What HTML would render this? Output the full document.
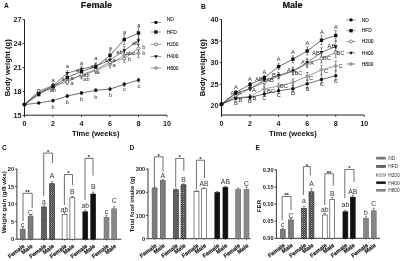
<!DOCTYPE html>
<html><head><meta charset="utf-8"><style>
html,body{margin:0;padding:0;background:#fff;width:400px;height:261px;overflow:hidden}
svg{display:block;font-family:"Liberation Sans", sans-serif;filter:blur(0.3px)}
</style></head><body>
<svg width="400" height="261" viewBox="0 0 400 261">
<text x="4.00" y="8.30" font-size="6.6" font-weight="bold" text-anchor="start" fill="#111" >A</text>
<text x="201.00" y="8.70" font-size="6.6" font-weight="bold" text-anchor="start" fill="#111" >B</text>
<text x="2.00" y="150.00" font-size="6.6" font-weight="bold" text-anchor="start" fill="#111" >C</text>
<text x="129.50" y="150.00" font-size="6.6" font-weight="bold" text-anchor="start" fill="#111" >D</text>
<text x="255.50" y="150.00" font-size="6.6" font-weight="bold" text-anchor="start" fill="#111" >E</text>
<line x1="24.50" y1="19.50" x2="24.50" y2="116.70" stroke="#222" stroke-width="1.0"/>
<line x1="24.50" y1="115.20" x2="167.00" y2="115.20" stroke="#222" stroke-width="1.0"/>
<line x1="22.50" y1="19.50" x2="24.50" y2="19.50" stroke="#222" stroke-width="0.8"/>
<text x="21.50" y="22.00" font-size="7.2" font-weight="bold" text-anchor="end" fill="#1a1a1a" >27</text>
<line x1="22.50" y1="43.50" x2="24.50" y2="43.50" stroke="#222" stroke-width="0.8"/>
<text x="21.50" y="46.00" font-size="7.2" font-weight="bold" text-anchor="end" fill="#1a1a1a" >24</text>
<line x1="22.50" y1="67.50" x2="24.50" y2="67.50" stroke="#222" stroke-width="0.8"/>
<text x="21.50" y="70.00" font-size="7.2" font-weight="bold" text-anchor="end" fill="#1a1a1a" >21</text>
<line x1="22.50" y1="91.50" x2="24.50" y2="91.50" stroke="#222" stroke-width="0.8"/>
<text x="21.50" y="94.00" font-size="7.2" font-weight="bold" text-anchor="end" fill="#1a1a1a" >18</text>
<line x1="22.50" y1="115.50" x2="24.50" y2="115.50" stroke="#222" stroke-width="0.8"/>
<text x="21.50" y="118.00" font-size="7.2" font-weight="bold" text-anchor="end" fill="#1a1a1a" >15</text>
<line x1="24.50" y1="115.20" x2="24.50" y2="117.20" stroke="#222" stroke-width="0.8"/>
<text x="24.50" y="126.00" font-size="7.2" font-weight="bold" text-anchor="middle" fill="#1a1a1a" >0</text>
<line x1="53.00" y1="115.20" x2="53.00" y2="117.20" stroke="#222" stroke-width="0.8"/>
<text x="53.00" y="126.00" font-size="7.2" font-weight="bold" text-anchor="middle" fill="#1a1a1a" >2</text>
<line x1="81.50" y1="115.20" x2="81.50" y2="117.20" stroke="#222" stroke-width="0.8"/>
<text x="81.50" y="126.00" font-size="7.2" font-weight="bold" text-anchor="middle" fill="#1a1a1a" >4</text>
<line x1="110.00" y1="115.20" x2="110.00" y2="117.20" stroke="#222" stroke-width="0.8"/>
<text x="110.00" y="126.00" font-size="7.2" font-weight="bold" text-anchor="middle" fill="#1a1a1a" >6</text>
<line x1="138.50" y1="115.20" x2="138.50" y2="117.20" stroke="#222" stroke-width="0.8"/>
<text x="138.50" y="126.00" font-size="7.2" font-weight="bold" text-anchor="middle" fill="#1a1a1a" >8</text>
<line x1="167.00" y1="115.20" x2="167.00" y2="117.20" stroke="#222" stroke-width="0.8"/>
<text x="167.00" y="126.00" font-size="7.2" font-weight="bold" text-anchor="middle" fill="#1a1a1a" >10</text>
<text x="96.50" y="8.10" font-size="9.1" font-weight="bold" text-anchor="middle" fill="#111" stroke="#111" stroke-width="0.2">Female</text>
<text x="95.75" y="136.30" font-size="7.6" font-weight="bold" text-anchor="middle" fill="#111" >Time (weeks)</text>
<text x="0" y="0" font-size="7.6" font-weight="bold" text-anchor="middle" fill="#111" transform="translate(9.8,67.7) rotate(-90)">Body weight (g)</text>
<polyline points="24.50,104.50 38.75,92.50 53.00,88.00 67.25,79.50 81.50,76.00 95.75,70.50 110.00,64.50 124.25,55.00 138.50,53.50" fill="none" stroke="#777" stroke-width="0.7"/>
<polyline points="24.50,104.50 38.75,91.00 53.00,85.50 67.25,82.00 81.50,74.50 95.75,69.90 110.00,62.00 124.25,58.50 138.50,48.50" fill="none" stroke="#666" stroke-width="0.7"/>
<polyline points="24.50,104.50 38.75,93.00 53.00,85.70 67.25,73.20 81.50,69.00 95.75,66.00 110.00,60.00 124.25,50.50 138.50,40.60" fill="none" stroke="#444" stroke-width="0.7"/>
<polyline points="24.50,104.50 38.75,94.50 53.00,86.50 67.25,77.60 81.50,71.40 95.75,66.80 110.00,55.30 124.25,39.50 138.50,33.00" fill="none" stroke="#333" stroke-width="0.7"/>
<polyline points="24.50,104.50 38.75,103.00 53.00,100.60 67.25,96.00 81.50,93.00 95.75,90.30 110.00,89.10 124.25,84.30 138.50,80.10" fill="none" stroke="#333" stroke-width="0.7"/>
<line x1="38.75" y1="91.00" x2="38.75" y2="94.00" stroke="#444" stroke-width="0.6"/>
<line x1="37.75" y1="91.00" x2="39.75" y2="91.00" stroke="#444" stroke-width="0.6"/>
<line x1="37.75" y1="94.00" x2="39.75" y2="94.00" stroke="#444" stroke-width="0.6"/>
<line x1="53.00" y1="86.00" x2="53.00" y2="90.00" stroke="#444" stroke-width="0.6"/>
<line x1="52.00" y1="86.00" x2="54.00" y2="86.00" stroke="#444" stroke-width="0.6"/>
<line x1="52.00" y1="90.00" x2="54.00" y2="90.00" stroke="#444" stroke-width="0.6"/>
<line x1="67.25" y1="77.00" x2="67.25" y2="82.00" stroke="#444" stroke-width="0.6"/>
<line x1="66.25" y1="77.00" x2="68.25" y2="77.00" stroke="#444" stroke-width="0.6"/>
<line x1="66.25" y1="82.00" x2="68.25" y2="82.00" stroke="#444" stroke-width="0.6"/>
<line x1="81.50" y1="73.00" x2="81.50" y2="79.00" stroke="#444" stroke-width="0.6"/>
<line x1="80.50" y1="73.00" x2="82.50" y2="73.00" stroke="#444" stroke-width="0.6"/>
<line x1="80.50" y1="79.00" x2="82.50" y2="79.00" stroke="#444" stroke-width="0.6"/>
<line x1="95.75" y1="67.50" x2="95.75" y2="73.50" stroke="#444" stroke-width="0.6"/>
<line x1="94.75" y1="67.50" x2="96.75" y2="67.50" stroke="#444" stroke-width="0.6"/>
<line x1="94.75" y1="73.50" x2="96.75" y2="73.50" stroke="#444" stroke-width="0.6"/>
<line x1="110.00" y1="61.00" x2="110.00" y2="68.00" stroke="#444" stroke-width="0.6"/>
<line x1="109.00" y1="61.00" x2="111.00" y2="61.00" stroke="#444" stroke-width="0.6"/>
<line x1="109.00" y1="68.00" x2="111.00" y2="68.00" stroke="#444" stroke-width="0.6"/>
<line x1="124.25" y1="51.00" x2="124.25" y2="59.00" stroke="#444" stroke-width="0.6"/>
<line x1="123.25" y1="51.00" x2="125.25" y2="51.00" stroke="#444" stroke-width="0.6"/>
<line x1="123.25" y1="59.00" x2="125.25" y2="59.00" stroke="#444" stroke-width="0.6"/>
<line x1="138.50" y1="49.50" x2="138.50" y2="57.50" stroke="#444" stroke-width="0.6"/>
<line x1="137.50" y1="49.50" x2="139.50" y2="49.50" stroke="#444" stroke-width="0.6"/>
<line x1="137.50" y1="57.50" x2="139.50" y2="57.50" stroke="#444" stroke-width="0.6"/>
<line x1="38.75" y1="89.50" x2="38.75" y2="92.50" stroke="#444" stroke-width="0.6"/>
<line x1="37.75" y1="89.50" x2="39.75" y2="89.50" stroke="#444" stroke-width="0.6"/>
<line x1="37.75" y1="92.50" x2="39.75" y2="92.50" stroke="#444" stroke-width="0.6"/>
<line x1="53.00" y1="83.50" x2="53.00" y2="87.50" stroke="#444" stroke-width="0.6"/>
<line x1="52.00" y1="83.50" x2="54.00" y2="83.50" stroke="#444" stroke-width="0.6"/>
<line x1="52.00" y1="87.50" x2="54.00" y2="87.50" stroke="#444" stroke-width="0.6"/>
<line x1="67.25" y1="79.50" x2="67.25" y2="84.50" stroke="#444" stroke-width="0.6"/>
<line x1="66.25" y1="79.50" x2="68.25" y2="79.50" stroke="#444" stroke-width="0.6"/>
<line x1="66.25" y1="84.50" x2="68.25" y2="84.50" stroke="#444" stroke-width="0.6"/>
<line x1="81.50" y1="71.50" x2="81.50" y2="77.50" stroke="#444" stroke-width="0.6"/>
<line x1="80.50" y1="71.50" x2="82.50" y2="71.50" stroke="#444" stroke-width="0.6"/>
<line x1="80.50" y1="77.50" x2="82.50" y2="77.50" stroke="#444" stroke-width="0.6"/>
<line x1="95.75" y1="66.90" x2="95.75" y2="72.90" stroke="#444" stroke-width="0.6"/>
<line x1="94.75" y1="66.90" x2="96.75" y2="66.90" stroke="#444" stroke-width="0.6"/>
<line x1="94.75" y1="72.90" x2="96.75" y2="72.90" stroke="#444" stroke-width="0.6"/>
<line x1="110.00" y1="58.50" x2="110.00" y2="65.50" stroke="#444" stroke-width="0.6"/>
<line x1="109.00" y1="58.50" x2="111.00" y2="58.50" stroke="#444" stroke-width="0.6"/>
<line x1="109.00" y1="65.50" x2="111.00" y2="65.50" stroke="#444" stroke-width="0.6"/>
<line x1="124.25" y1="54.50" x2="124.25" y2="62.50" stroke="#444" stroke-width="0.6"/>
<line x1="123.25" y1="54.50" x2="125.25" y2="54.50" stroke="#444" stroke-width="0.6"/>
<line x1="123.25" y1="62.50" x2="125.25" y2="62.50" stroke="#444" stroke-width="0.6"/>
<line x1="138.50" y1="44.50" x2="138.50" y2="52.50" stroke="#444" stroke-width="0.6"/>
<line x1="137.50" y1="44.50" x2="139.50" y2="44.50" stroke="#444" stroke-width="0.6"/>
<line x1="137.50" y1="52.50" x2="139.50" y2="52.50" stroke="#444" stroke-width="0.6"/>
<line x1="38.75" y1="91.50" x2="38.75" y2="94.50" stroke="#444" stroke-width="0.6"/>
<line x1="37.75" y1="91.50" x2="39.75" y2="91.50" stroke="#444" stroke-width="0.6"/>
<line x1="37.75" y1="94.50" x2="39.75" y2="94.50" stroke="#444" stroke-width="0.6"/>
<line x1="53.00" y1="83.70" x2="53.00" y2="87.70" stroke="#444" stroke-width="0.6"/>
<line x1="52.00" y1="83.70" x2="54.00" y2="83.70" stroke="#444" stroke-width="0.6"/>
<line x1="52.00" y1="87.70" x2="54.00" y2="87.70" stroke="#444" stroke-width="0.6"/>
<line x1="67.25" y1="70.70" x2="67.25" y2="75.70" stroke="#444" stroke-width="0.6"/>
<line x1="66.25" y1="70.70" x2="68.25" y2="70.70" stroke="#444" stroke-width="0.6"/>
<line x1="66.25" y1="75.70" x2="68.25" y2="75.70" stroke="#444" stroke-width="0.6"/>
<line x1="81.50" y1="66.00" x2="81.50" y2="72.00" stroke="#444" stroke-width="0.6"/>
<line x1="80.50" y1="66.00" x2="82.50" y2="66.00" stroke="#444" stroke-width="0.6"/>
<line x1="80.50" y1="72.00" x2="82.50" y2="72.00" stroke="#444" stroke-width="0.6"/>
<line x1="95.75" y1="63.00" x2="95.75" y2="69.00" stroke="#444" stroke-width="0.6"/>
<line x1="94.75" y1="63.00" x2="96.75" y2="63.00" stroke="#444" stroke-width="0.6"/>
<line x1="94.75" y1="69.00" x2="96.75" y2="69.00" stroke="#444" stroke-width="0.6"/>
<line x1="110.00" y1="56.50" x2="110.00" y2="63.50" stroke="#444" stroke-width="0.6"/>
<line x1="109.00" y1="56.50" x2="111.00" y2="56.50" stroke="#444" stroke-width="0.6"/>
<line x1="109.00" y1="63.50" x2="111.00" y2="63.50" stroke="#444" stroke-width="0.6"/>
<line x1="124.25" y1="46.50" x2="124.25" y2="54.50" stroke="#444" stroke-width="0.6"/>
<line x1="123.25" y1="46.50" x2="125.25" y2="46.50" stroke="#444" stroke-width="0.6"/>
<line x1="123.25" y1="54.50" x2="125.25" y2="54.50" stroke="#444" stroke-width="0.6"/>
<line x1="138.50" y1="36.10" x2="138.50" y2="45.10" stroke="#444" stroke-width="0.6"/>
<line x1="137.50" y1="36.10" x2="139.50" y2="36.10" stroke="#444" stroke-width="0.6"/>
<line x1="137.50" y1="45.10" x2="139.50" y2="45.10" stroke="#444" stroke-width="0.6"/>
<line x1="38.75" y1="93.00" x2="38.75" y2="96.00" stroke="#444" stroke-width="0.6"/>
<line x1="37.75" y1="93.00" x2="39.75" y2="93.00" stroke="#444" stroke-width="0.6"/>
<line x1="37.75" y1="96.00" x2="39.75" y2="96.00" stroke="#444" stroke-width="0.6"/>
<line x1="53.00" y1="84.50" x2="53.00" y2="88.50" stroke="#444" stroke-width="0.6"/>
<line x1="52.00" y1="84.50" x2="54.00" y2="84.50" stroke="#444" stroke-width="0.6"/>
<line x1="52.00" y1="88.50" x2="54.00" y2="88.50" stroke="#444" stroke-width="0.6"/>
<line x1="67.25" y1="75.10" x2="67.25" y2="80.10" stroke="#444" stroke-width="0.6"/>
<line x1="66.25" y1="75.10" x2="68.25" y2="75.10" stroke="#444" stroke-width="0.6"/>
<line x1="66.25" y1="80.10" x2="68.25" y2="80.10" stroke="#444" stroke-width="0.6"/>
<line x1="81.50" y1="68.40" x2="81.50" y2="74.40" stroke="#444" stroke-width="0.6"/>
<line x1="80.50" y1="68.40" x2="82.50" y2="68.40" stroke="#444" stroke-width="0.6"/>
<line x1="80.50" y1="74.40" x2="82.50" y2="74.40" stroke="#444" stroke-width="0.6"/>
<line x1="95.75" y1="63.30" x2="95.75" y2="70.30" stroke="#444" stroke-width="0.6"/>
<line x1="94.75" y1="63.30" x2="96.75" y2="63.30" stroke="#444" stroke-width="0.6"/>
<line x1="94.75" y1="70.30" x2="96.75" y2="70.30" stroke="#444" stroke-width="0.6"/>
<line x1="110.00" y1="50.80" x2="110.00" y2="59.80" stroke="#444" stroke-width="0.6"/>
<line x1="109.00" y1="50.80" x2="111.00" y2="50.80" stroke="#444" stroke-width="0.6"/>
<line x1="109.00" y1="59.80" x2="111.00" y2="59.80" stroke="#444" stroke-width="0.6"/>
<line x1="124.25" y1="34.50" x2="124.25" y2="44.50" stroke="#444" stroke-width="0.6"/>
<line x1="123.25" y1="34.50" x2="125.25" y2="34.50" stroke="#444" stroke-width="0.6"/>
<line x1="123.25" y1="44.50" x2="125.25" y2="44.50" stroke="#444" stroke-width="0.6"/>
<line x1="138.50" y1="27.50" x2="138.50" y2="38.50" stroke="#444" stroke-width="0.6"/>
<line x1="137.50" y1="27.50" x2="139.50" y2="27.50" stroke="#444" stroke-width="0.6"/>
<line x1="137.50" y1="38.50" x2="139.50" y2="38.50" stroke="#444" stroke-width="0.6"/>
<line x1="53.00" y1="99.10" x2="53.00" y2="102.10" stroke="#444" stroke-width="0.6"/>
<line x1="52.00" y1="99.10" x2="54.00" y2="99.10" stroke="#444" stroke-width="0.6"/>
<line x1="52.00" y1="102.10" x2="54.00" y2="102.10" stroke="#444" stroke-width="0.6"/>
<line x1="67.25" y1="94.50" x2="67.25" y2="97.50" stroke="#444" stroke-width="0.6"/>
<line x1="66.25" y1="94.50" x2="68.25" y2="94.50" stroke="#444" stroke-width="0.6"/>
<line x1="66.25" y1="97.50" x2="68.25" y2="97.50" stroke="#444" stroke-width="0.6"/>
<line x1="81.50" y1="91.50" x2="81.50" y2="94.50" stroke="#444" stroke-width="0.6"/>
<line x1="80.50" y1="91.50" x2="82.50" y2="91.50" stroke="#444" stroke-width="0.6"/>
<line x1="80.50" y1="94.50" x2="82.50" y2="94.50" stroke="#444" stroke-width="0.6"/>
<line x1="95.75" y1="88.80" x2="95.75" y2="91.80" stroke="#444" stroke-width="0.6"/>
<line x1="94.75" y1="88.80" x2="96.75" y2="88.80" stroke="#444" stroke-width="0.6"/>
<line x1="94.75" y1="91.80" x2="96.75" y2="91.80" stroke="#444" stroke-width="0.6"/>
<line x1="110.00" y1="87.30" x2="110.00" y2="90.90" stroke="#444" stroke-width="0.6"/>
<line x1="109.00" y1="87.30" x2="111.00" y2="87.30" stroke="#444" stroke-width="0.6"/>
<line x1="109.00" y1="90.90" x2="111.00" y2="90.90" stroke="#444" stroke-width="0.6"/>
<line x1="124.25" y1="82.30" x2="124.25" y2="86.30" stroke="#444" stroke-width="0.6"/>
<line x1="123.25" y1="82.30" x2="125.25" y2="82.30" stroke="#444" stroke-width="0.6"/>
<line x1="123.25" y1="86.30" x2="125.25" y2="86.30" stroke="#444" stroke-width="0.6"/>
<line x1="138.50" y1="78.10" x2="138.50" y2="82.10" stroke="#444" stroke-width="0.6"/>
<line x1="137.50" y1="78.10" x2="139.50" y2="78.10" stroke="#444" stroke-width="0.6"/>
<line x1="137.50" y1="82.10" x2="139.50" y2="82.10" stroke="#444" stroke-width="0.6"/>
<path d="M24.50,102.70 L26.30,104.50 L24.50,106.30 L22.70,104.50 Z" fill="#aaa" stroke="#555" stroke-width="0.5"/>
<path d="M38.75,90.70 L40.55,92.50 L38.75,94.30 L36.95,92.50 Z" fill="#aaa" stroke="#555" stroke-width="0.5"/>
<path d="M53.00,86.20 L54.80,88.00 L53.00,89.80 L51.20,88.00 Z" fill="#aaa" stroke="#555" stroke-width="0.5"/>
<path d="M67.25,77.70 L69.05,79.50 L67.25,81.30 L65.45,79.50 Z" fill="#aaa" stroke="#555" stroke-width="0.5"/>
<path d="M81.50,74.20 L83.30,76.00 L81.50,77.80 L79.70,76.00 Z" fill="#aaa" stroke="#555" stroke-width="0.5"/>
<path d="M95.75,68.70 L97.55,70.50 L95.75,72.30 L93.95,70.50 Z" fill="#aaa" stroke="#555" stroke-width="0.5"/>
<path d="M110.00,62.70 L111.80,64.50 L110.00,66.30 L108.20,64.50 Z" fill="#aaa" stroke="#555" stroke-width="0.5"/>
<path d="M124.25,53.20 L126.05,55.00 L124.25,56.80 L122.45,55.00 Z" fill="#aaa" stroke="#555" stroke-width="0.5"/>
<path d="M138.50,51.70 L140.30,53.50 L138.50,55.30 L136.70,53.50 Z" fill="#aaa" stroke="#555" stroke-width="0.5"/>
<circle cx="24.50" cy="104.50" r="1.5" fill="#fff" stroke="#333" stroke-width="0.6"/>
<circle cx="38.75" cy="91.00" r="1.5" fill="#fff" stroke="#333" stroke-width="0.6"/>
<circle cx="53.00" cy="85.50" r="1.5" fill="#fff" stroke="#333" stroke-width="0.6"/>
<circle cx="67.25" cy="82.00" r="1.5" fill="#fff" stroke="#333" stroke-width="0.6"/>
<circle cx="81.50" cy="74.50" r="1.5" fill="#fff" stroke="#333" stroke-width="0.6"/>
<circle cx="95.75" cy="69.90" r="1.5" fill="#fff" stroke="#333" stroke-width="0.6"/>
<circle cx="110.00" cy="62.00" r="1.5" fill="#fff" stroke="#333" stroke-width="0.6"/>
<circle cx="124.25" cy="58.50" r="1.5" fill="#fff" stroke="#333" stroke-width="0.6"/>
<circle cx="138.50" cy="48.50" r="1.5" fill="#fff" stroke="#333" stroke-width="0.6"/>
<path d="M22.60,103.20 L26.40,103.20 L24.50,106.40 Z" fill="#111"/>
<path d="M36.85,91.70 L40.65,91.70 L38.75,94.90 Z" fill="#111"/>
<path d="M51.10,84.40 L54.90,84.40 L53.00,87.60 Z" fill="#111"/>
<path d="M65.35,71.90 L69.15,71.90 L67.25,75.10 Z" fill="#111"/>
<path d="M79.60,67.70 L83.40,67.70 L81.50,70.90 Z" fill="#111"/>
<path d="M93.85,64.70 L97.65,64.70 L95.75,67.90 Z" fill="#111"/>
<path d="M108.10,58.70 L111.90,58.70 L110.00,61.90 Z" fill="#111"/>
<path d="M122.35,49.20 L126.15,49.20 L124.25,52.40 Z" fill="#111"/>
<path d="M136.60,39.30 L140.40,39.30 L138.50,42.50 Z" fill="#111"/>
<rect x="22.80" y="102.80" width="3.4" height="3.4" fill="#111"/>
<rect x="37.05" y="92.80" width="3.4" height="3.4" fill="#111"/>
<rect x="51.30" y="84.80" width="3.4" height="3.4" fill="#111"/>
<rect x="65.55" y="75.90" width="3.4" height="3.4" fill="#111"/>
<rect x="79.80" y="69.70" width="3.4" height="3.4" fill="#111"/>
<rect x="94.05" y="65.10" width="3.4" height="3.4" fill="#111"/>
<rect x="108.30" y="53.60" width="3.4" height="3.4" fill="#111"/>
<rect x="122.55" y="37.80" width="3.4" height="3.4" fill="#111"/>
<rect x="136.80" y="31.30" width="3.4" height="3.4" fill="#111"/>
<circle cx="24.50" cy="104.50" r="1.7" fill="#111"/>
<circle cx="38.75" cy="103.00" r="1.7" fill="#111"/>
<circle cx="53.00" cy="100.60" r="1.7" fill="#111"/>
<circle cx="67.25" cy="96.00" r="1.7" fill="#111"/>
<circle cx="81.50" cy="93.00" r="1.7" fill="#111"/>
<circle cx="95.75" cy="90.30" r="1.7" fill="#111"/>
<circle cx="110.00" cy="89.10" r="1.7" fill="#111"/>
<circle cx="124.25" cy="84.30" r="1.7" fill="#111"/>
<circle cx="138.50" cy="80.10" r="1.7" fill="#111"/>
<line x1="150.70" y1="22.40" x2="161.10" y2="22.40" stroke="#555" stroke-width="0.6"/>
<circle cx="155.90" cy="22.40" r="1.7" fill="#111"/>
<text x="166.80" y="21.25" font-size="4.9" font-weight="normal" text-anchor="start" fill="#000" stroke="#000" stroke-width="0.06">ND</text>
<line x1="150.70" y1="32.00" x2="161.10" y2="32.00" stroke="#555" stroke-width="0.6"/>
<rect x="154.20" y="30.30" width="3.4" height="3.4" fill="#111"/>
<text x="166.80" y="33.75" font-size="4.9" font-weight="normal" text-anchor="start" fill="#000" stroke="#000" stroke-width="0.06">HFD</text>
<line x1="150.70" y1="44.30" x2="161.10" y2="44.30" stroke="#555" stroke-width="0.6"/>
<circle cx="155.90" cy="44.30" r="1.5" fill="#fff" stroke="#333" stroke-width="0.6"/>
<text x="166.80" y="46.05" font-size="4.9" font-weight="normal" text-anchor="start" fill="#000" stroke="#000" stroke-width="0.06">H200</text>
<line x1="150.70" y1="56.50" x2="161.10" y2="56.50" stroke="#555" stroke-width="0.6"/>
<path d="M154.00,55.20 L157.80,55.20 L155.90,58.40 Z" fill="#111"/>
<text x="166.80" y="58.25" font-size="4.9" font-weight="normal" text-anchor="start" fill="#000" stroke="#000" stroke-width="0.06">H400</text>
<line x1="150.70" y1="68.00" x2="161.10" y2="68.00" stroke="#555" stroke-width="0.6"/>
<path d="M155.90,66.20 L157.70,68.00 L155.90,69.80 L154.10,68.00 Z" fill="#aaa" stroke="#555" stroke-width="0.5"/>
<text x="166.80" y="69.75" font-size="4.9" font-weight="normal" text-anchor="start" fill="#000" stroke="#000" stroke-width="0.06">H800</text>
<text x="53.00" y="81.50" font-size="5.7" font-weight="normal" text-anchor="middle" fill="#2a2a2a" >a</text>
<text x="53.00" y="92.00" font-size="5.7" font-weight="normal" text-anchor="middle" fill="#2a2a2a" >ab</text>
<text x="53.00" y="108.50" font-size="5.7" font-weight="normal" text-anchor="middle" fill="#2a2a2a" >b</text>
<text x="38.80" y="109.00" font-size="5.7" font-weight="normal" text-anchor="middle" fill="#2a2a2a" ></text>
<text x="67.25" y="68.40" font-size="5.7" font-weight="normal" text-anchor="middle" fill="#2a2a2a" >a</text>
<text x="63.00" y="80.70" font-size="5.7" font-weight="normal" text-anchor="middle" fill="#2a2a2a" >a</text>
<text x="72.00" y="80.00" font-size="5.7" font-weight="normal" text-anchor="middle" fill="#2a2a2a" >a</text>
<text x="72.00" y="85.30" font-size="5.7" font-weight="normal" text-anchor="middle" fill="#2a2a2a" >a</text>
<text x="67.25" y="103.50" font-size="5.7" font-weight="normal" text-anchor="middle" fill="#2a2a2a" >b</text>
<text x="81.50" y="65.00" font-size="5.7" font-weight="normal" text-anchor="middle" fill="#2a2a2a" >a</text>
<text x="77.50" y="71.50" font-size="5.7" font-weight="normal" text-anchor="middle" fill="#2a2a2a" >a</text>
<text x="86.50" y="77.00" font-size="5.7" font-weight="normal" text-anchor="middle" fill="#2a2a2a" >ab</text>
<text x="86.50" y="80.70" font-size="5.7" font-weight="normal" text-anchor="middle" fill="#2a2a2a" >ab</text>
<text x="81.50" y="100.50" font-size="5.7" font-weight="normal" text-anchor="middle" fill="#2a2a2a" >b</text>
<text x="95.75" y="60.40" font-size="5.7" font-weight="normal" text-anchor="middle" fill="#2a2a2a" >a</text>
<text x="92.00" y="68.00" font-size="5.7" font-weight="normal" text-anchor="middle" fill="#2a2a2a" >a</text>
<text x="98.00" y="74.20" font-size="5.7" font-weight="normal" text-anchor="middle" fill="#2a2a2a" >a</text>
<text x="95.75" y="99.20" font-size="5.7" font-weight="normal" text-anchor="middle" fill="#2a2a2a" >b</text>
<text x="110.25" y="50.00" font-size="5.7" font-weight="normal" text-anchor="middle" fill="#2a2a2a" >a</text>
<text x="106.40" y="61.60" font-size="5.7" font-weight="normal" text-anchor="middle" fill="#2a2a2a" >a</text>
<text x="114.00" y="62.00" font-size="5.7" font-weight="normal" text-anchor="middle" fill="#2a2a2a" >a</text>
<text x="114.00" y="66.50" font-size="5.7" font-weight="normal" text-anchor="middle" fill="#2a2a2a" >a</text>
<text x="110.50" y="97.00" font-size="5.7" font-weight="normal" text-anchor="middle" fill="#2a2a2a" >b</text>
<text x="124.50" y="33.90" font-size="5.7" font-weight="normal" text-anchor="middle" fill="#2a2a2a" >a</text>
<text x="119.50" y="53.50" font-size="5.7" font-weight="normal" text-anchor="middle" fill="#2a2a2a" >ab</text>
<text x="130.50" y="55.00" font-size="5.7" font-weight="normal" text-anchor="middle" fill="#2a2a2a" >abc</text>
<text x="129.50" y="61.00" font-size="5.7" font-weight="normal" text-anchor="middle" fill="#2a2a2a" >b</text>
<text x="124.50" y="90.70" font-size="5.7" font-weight="normal" text-anchor="middle" fill="#2a2a2a" >c</text>
<text x="138.75" y="27.00" font-size="5.7" font-weight="normal" text-anchor="middle" fill="#2a2a2a" >a</text>
<text x="135.20" y="45.00" font-size="5.7" font-weight="normal" text-anchor="middle" fill="#2a2a2a" >ab</text>
<text x="143.80" y="48.90" font-size="5.7" font-weight="normal" text-anchor="middle" fill="#2a2a2a" >b</text>
<text x="143.80" y="55.30" font-size="5.7" font-weight="normal" text-anchor="middle" fill="#2a2a2a" >b</text>
<text x="139.00" y="87.90" font-size="5.7" font-weight="normal" text-anchor="middle" fill="#2a2a2a" >c</text>
<line x1="221.50" y1="19.40" x2="221.50" y2="116.50" stroke="#222" stroke-width="1.0"/>
<line x1="221.50" y1="115.00" x2="364.30" y2="115.00" stroke="#222" stroke-width="1.0"/>
<line x1="219.50" y1="19.40" x2="221.50" y2="19.40" stroke="#222" stroke-width="0.8"/>
<text x="218.50" y="21.90" font-size="7.2" font-weight="bold" text-anchor="end" fill="#1a1a1a" >40</text>
<line x1="219.50" y1="41.00" x2="221.50" y2="41.00" stroke="#222" stroke-width="0.8"/>
<text x="218.50" y="43.50" font-size="7.2" font-weight="bold" text-anchor="end" fill="#1a1a1a" >35</text>
<line x1="219.50" y1="62.60" x2="221.50" y2="62.60" stroke="#222" stroke-width="0.8"/>
<text x="218.50" y="65.10" font-size="7.2" font-weight="bold" text-anchor="end" fill="#1a1a1a" >30</text>
<line x1="219.50" y1="84.20" x2="221.50" y2="84.20" stroke="#222" stroke-width="0.8"/>
<text x="218.50" y="86.70" font-size="7.2" font-weight="bold" text-anchor="end" fill="#1a1a1a" >25</text>
<line x1="219.50" y1="105.75" x2="221.50" y2="105.75" stroke="#222" stroke-width="0.8"/>
<text x="218.50" y="108.25" font-size="7.2" font-weight="bold" text-anchor="end" fill="#1a1a1a" >20</text>
<line x1="221.50" y1="115.00" x2="221.50" y2="117.00" stroke="#222" stroke-width="0.8"/>
<text x="221.50" y="125.80" font-size="7.2" font-weight="bold" text-anchor="middle" fill="#1a1a1a" >0</text>
<line x1="250.06" y1="115.00" x2="250.06" y2="117.00" stroke="#222" stroke-width="0.8"/>
<text x="250.06" y="125.80" font-size="7.2" font-weight="bold" text-anchor="middle" fill="#1a1a1a" >2</text>
<line x1="278.62" y1="115.00" x2="278.62" y2="117.00" stroke="#222" stroke-width="0.8"/>
<text x="278.62" y="125.80" font-size="7.2" font-weight="bold" text-anchor="middle" fill="#1a1a1a" >4</text>
<line x1="307.18" y1="115.00" x2="307.18" y2="117.00" stroke="#222" stroke-width="0.8"/>
<text x="307.18" y="125.80" font-size="7.2" font-weight="bold" text-anchor="middle" fill="#1a1a1a" >6</text>
<line x1="335.74" y1="115.00" x2="335.74" y2="117.00" stroke="#222" stroke-width="0.8"/>
<text x="335.74" y="125.80" font-size="7.2" font-weight="bold" text-anchor="middle" fill="#1a1a1a" >8</text>
<line x1="364.30" y1="115.00" x2="364.30" y2="117.00" stroke="#222" stroke-width="0.8"/>
<text x="364.30" y="125.80" font-size="7.2" font-weight="bold" text-anchor="middle" fill="#1a1a1a" >10</text>
<text x="292.50" y="8.10" font-size="9.1" font-weight="bold" text-anchor="middle" fill="#111" stroke="#111" stroke-width="0.2">Male</text>
<text x="292.90" y="136.30" font-size="7.6" font-weight="bold" text-anchor="middle" fill="#111" >Time (weeks)</text>
<text x="0" y="0" font-size="7.6" font-weight="bold" text-anchor="middle" fill="#111" transform="translate(204.6,67.7) rotate(-90)">Body weight (g)</text>
<polyline points="221.50,104.20 235.78,98.00 250.06,96.50 264.34,88.70 278.62,86.20 292.90,82.40 307.18,76.50 321.46,69.80 335.74,66.00" fill="none" stroke="#777" stroke-width="0.7"/>
<polyline points="221.50,104.20 235.78,96.00 250.06,88.70 264.34,82.40 278.62,76.00 292.90,71.50 307.18,63.50 321.46,58.50 335.74,52.60" fill="none" stroke="#666" stroke-width="0.7"/>
<polyline points="221.50,104.20 235.78,93.50 250.06,88.50 264.34,80.30 278.62,75.40 292.90,70.80 307.18,62.50 321.46,52.30 335.74,46.50" fill="none" stroke="#444" stroke-width="0.7"/>
<polyline points="221.50,104.20 235.78,92.50 250.06,84.50 264.34,77.70 278.62,66.60 292.90,59.20 307.18,51.00 321.46,40.20 335.74,35.50" fill="none" stroke="#333" stroke-width="0.7"/>
<polyline points="221.50,104.20 235.78,98.20 250.06,97.30 264.34,94.00 278.62,90.80 292.90,88.70 307.18,83.80 321.46,79.50 335.74,75.70" fill="none" stroke="#333" stroke-width="0.7"/>
<line x1="235.78" y1="96.20" x2="235.78" y2="99.80" stroke="#444" stroke-width="0.6"/>
<line x1="234.78" y1="96.20" x2="236.78" y2="96.20" stroke="#444" stroke-width="0.6"/>
<line x1="234.78" y1="99.80" x2="236.78" y2="99.80" stroke="#444" stroke-width="0.6"/>
<line x1="250.06" y1="94.50" x2="250.06" y2="98.50" stroke="#444" stroke-width="0.6"/>
<line x1="249.06" y1="94.50" x2="251.06" y2="94.50" stroke="#444" stroke-width="0.6"/>
<line x1="249.06" y1="98.50" x2="251.06" y2="98.50" stroke="#444" stroke-width="0.6"/>
<line x1="264.34" y1="86.20" x2="264.34" y2="91.20" stroke="#444" stroke-width="0.6"/>
<line x1="263.34" y1="86.20" x2="265.34" y2="86.20" stroke="#444" stroke-width="0.6"/>
<line x1="263.34" y1="91.20" x2="265.34" y2="91.20" stroke="#444" stroke-width="0.6"/>
<line x1="278.62" y1="83.20" x2="278.62" y2="89.20" stroke="#444" stroke-width="0.6"/>
<line x1="277.62" y1="83.20" x2="279.62" y2="83.20" stroke="#444" stroke-width="0.6"/>
<line x1="277.62" y1="89.20" x2="279.62" y2="89.20" stroke="#444" stroke-width="0.6"/>
<line x1="292.90" y1="78.90" x2="292.90" y2="85.90" stroke="#444" stroke-width="0.6"/>
<line x1="291.90" y1="78.90" x2="293.90" y2="78.90" stroke="#444" stroke-width="0.6"/>
<line x1="291.90" y1="85.90" x2="293.90" y2="85.90" stroke="#444" stroke-width="0.6"/>
<line x1="307.18" y1="72.50" x2="307.18" y2="80.50" stroke="#444" stroke-width="0.6"/>
<line x1="306.18" y1="72.50" x2="308.18" y2="72.50" stroke="#444" stroke-width="0.6"/>
<line x1="306.18" y1="80.50" x2="308.18" y2="80.50" stroke="#444" stroke-width="0.6"/>
<line x1="321.46" y1="65.30" x2="321.46" y2="74.30" stroke="#444" stroke-width="0.6"/>
<line x1="320.46" y1="65.30" x2="322.46" y2="65.30" stroke="#444" stroke-width="0.6"/>
<line x1="320.46" y1="74.30" x2="322.46" y2="74.30" stroke="#444" stroke-width="0.6"/>
<line x1="335.74" y1="61.00" x2="335.74" y2="71.00" stroke="#444" stroke-width="0.6"/>
<line x1="334.74" y1="61.00" x2="336.74" y2="61.00" stroke="#444" stroke-width="0.6"/>
<line x1="334.74" y1="71.00" x2="336.74" y2="71.00" stroke="#444" stroke-width="0.6"/>
<line x1="235.78" y1="94.20" x2="235.78" y2="97.80" stroke="#444" stroke-width="0.6"/>
<line x1="234.78" y1="94.20" x2="236.78" y2="94.20" stroke="#444" stroke-width="0.6"/>
<line x1="234.78" y1="97.80" x2="236.78" y2="97.80" stroke="#444" stroke-width="0.6"/>
<line x1="250.06" y1="86.70" x2="250.06" y2="90.70" stroke="#444" stroke-width="0.6"/>
<line x1="249.06" y1="86.70" x2="251.06" y2="86.70" stroke="#444" stroke-width="0.6"/>
<line x1="249.06" y1="90.70" x2="251.06" y2="90.70" stroke="#444" stroke-width="0.6"/>
<line x1="264.34" y1="79.90" x2="264.34" y2="84.90" stroke="#444" stroke-width="0.6"/>
<line x1="263.34" y1="79.90" x2="265.34" y2="79.90" stroke="#444" stroke-width="0.6"/>
<line x1="263.34" y1="84.90" x2="265.34" y2="84.90" stroke="#444" stroke-width="0.6"/>
<line x1="278.62" y1="73.00" x2="278.62" y2="79.00" stroke="#444" stroke-width="0.6"/>
<line x1="277.62" y1="73.00" x2="279.62" y2="73.00" stroke="#444" stroke-width="0.6"/>
<line x1="277.62" y1="79.00" x2="279.62" y2="79.00" stroke="#444" stroke-width="0.6"/>
<line x1="292.90" y1="68.00" x2="292.90" y2="75.00" stroke="#444" stroke-width="0.6"/>
<line x1="291.90" y1="68.00" x2="293.90" y2="68.00" stroke="#444" stroke-width="0.6"/>
<line x1="291.90" y1="75.00" x2="293.90" y2="75.00" stroke="#444" stroke-width="0.6"/>
<line x1="307.18" y1="59.50" x2="307.18" y2="67.50" stroke="#444" stroke-width="0.6"/>
<line x1="306.18" y1="59.50" x2="308.18" y2="59.50" stroke="#444" stroke-width="0.6"/>
<line x1="306.18" y1="67.50" x2="308.18" y2="67.50" stroke="#444" stroke-width="0.6"/>
<line x1="321.46" y1="54.00" x2="321.46" y2="63.00" stroke="#444" stroke-width="0.6"/>
<line x1="320.46" y1="54.00" x2="322.46" y2="54.00" stroke="#444" stroke-width="0.6"/>
<line x1="320.46" y1="63.00" x2="322.46" y2="63.00" stroke="#444" stroke-width="0.6"/>
<line x1="335.74" y1="47.60" x2="335.74" y2="57.60" stroke="#444" stroke-width="0.6"/>
<line x1="334.74" y1="47.60" x2="336.74" y2="47.60" stroke="#444" stroke-width="0.6"/>
<line x1="334.74" y1="57.60" x2="336.74" y2="57.60" stroke="#444" stroke-width="0.6"/>
<line x1="235.78" y1="91.70" x2="235.78" y2="95.30" stroke="#444" stroke-width="0.6"/>
<line x1="234.78" y1="91.70" x2="236.78" y2="91.70" stroke="#444" stroke-width="0.6"/>
<line x1="234.78" y1="95.30" x2="236.78" y2="95.30" stroke="#444" stroke-width="0.6"/>
<line x1="250.06" y1="86.50" x2="250.06" y2="90.50" stroke="#444" stroke-width="0.6"/>
<line x1="249.06" y1="86.50" x2="251.06" y2="86.50" stroke="#444" stroke-width="0.6"/>
<line x1="249.06" y1="90.50" x2="251.06" y2="90.50" stroke="#444" stroke-width="0.6"/>
<line x1="264.34" y1="77.80" x2="264.34" y2="82.80" stroke="#444" stroke-width="0.6"/>
<line x1="263.34" y1="77.80" x2="265.34" y2="77.80" stroke="#444" stroke-width="0.6"/>
<line x1="263.34" y1="82.80" x2="265.34" y2="82.80" stroke="#444" stroke-width="0.6"/>
<line x1="278.62" y1="72.40" x2="278.62" y2="78.40" stroke="#444" stroke-width="0.6"/>
<line x1="277.62" y1="72.40" x2="279.62" y2="72.40" stroke="#444" stroke-width="0.6"/>
<line x1="277.62" y1="78.40" x2="279.62" y2="78.40" stroke="#444" stroke-width="0.6"/>
<line x1="292.90" y1="67.30" x2="292.90" y2="74.30" stroke="#444" stroke-width="0.6"/>
<line x1="291.90" y1="67.30" x2="293.90" y2="67.30" stroke="#444" stroke-width="0.6"/>
<line x1="291.90" y1="74.30" x2="293.90" y2="74.30" stroke="#444" stroke-width="0.6"/>
<line x1="307.18" y1="58.50" x2="307.18" y2="66.50" stroke="#444" stroke-width="0.6"/>
<line x1="306.18" y1="58.50" x2="308.18" y2="58.50" stroke="#444" stroke-width="0.6"/>
<line x1="306.18" y1="66.50" x2="308.18" y2="66.50" stroke="#444" stroke-width="0.6"/>
<line x1="321.46" y1="47.80" x2="321.46" y2="56.80" stroke="#444" stroke-width="0.6"/>
<line x1="320.46" y1="47.80" x2="322.46" y2="47.80" stroke="#444" stroke-width="0.6"/>
<line x1="320.46" y1="56.80" x2="322.46" y2="56.80" stroke="#444" stroke-width="0.6"/>
<line x1="335.74" y1="41.50" x2="335.74" y2="51.50" stroke="#444" stroke-width="0.6"/>
<line x1="334.74" y1="41.50" x2="336.74" y2="41.50" stroke="#444" stroke-width="0.6"/>
<line x1="334.74" y1="51.50" x2="336.74" y2="51.50" stroke="#444" stroke-width="0.6"/>
<line x1="235.78" y1="90.70" x2="235.78" y2="94.30" stroke="#444" stroke-width="0.6"/>
<line x1="234.78" y1="90.70" x2="236.78" y2="90.70" stroke="#444" stroke-width="0.6"/>
<line x1="234.78" y1="94.30" x2="236.78" y2="94.30" stroke="#444" stroke-width="0.6"/>
<line x1="250.06" y1="82.50" x2="250.06" y2="86.50" stroke="#444" stroke-width="0.6"/>
<line x1="249.06" y1="82.50" x2="251.06" y2="82.50" stroke="#444" stroke-width="0.6"/>
<line x1="249.06" y1="86.50" x2="251.06" y2="86.50" stroke="#444" stroke-width="0.6"/>
<line x1="264.34" y1="75.20" x2="264.34" y2="80.20" stroke="#444" stroke-width="0.6"/>
<line x1="263.34" y1="75.20" x2="265.34" y2="75.20" stroke="#444" stroke-width="0.6"/>
<line x1="263.34" y1="80.20" x2="265.34" y2="80.20" stroke="#444" stroke-width="0.6"/>
<line x1="278.62" y1="63.60" x2="278.62" y2="69.60" stroke="#444" stroke-width="0.6"/>
<line x1="277.62" y1="63.60" x2="279.62" y2="63.60" stroke="#444" stroke-width="0.6"/>
<line x1="277.62" y1="69.60" x2="279.62" y2="69.60" stroke="#444" stroke-width="0.6"/>
<line x1="292.90" y1="55.70" x2="292.90" y2="62.70" stroke="#444" stroke-width="0.6"/>
<line x1="291.90" y1="55.70" x2="293.90" y2="55.70" stroke="#444" stroke-width="0.6"/>
<line x1="291.90" y1="62.70" x2="293.90" y2="62.70" stroke="#444" stroke-width="0.6"/>
<line x1="307.18" y1="47.00" x2="307.18" y2="55.00" stroke="#444" stroke-width="0.6"/>
<line x1="306.18" y1="47.00" x2="308.18" y2="47.00" stroke="#444" stroke-width="0.6"/>
<line x1="306.18" y1="55.00" x2="308.18" y2="55.00" stroke="#444" stroke-width="0.6"/>
<line x1="321.46" y1="35.70" x2="321.46" y2="44.70" stroke="#444" stroke-width="0.6"/>
<line x1="320.46" y1="35.70" x2="322.46" y2="35.70" stroke="#444" stroke-width="0.6"/>
<line x1="320.46" y1="44.70" x2="322.46" y2="44.70" stroke="#444" stroke-width="0.6"/>
<line x1="335.74" y1="30.50" x2="335.74" y2="40.50" stroke="#444" stroke-width="0.6"/>
<line x1="334.74" y1="30.50" x2="336.74" y2="30.50" stroke="#444" stroke-width="0.6"/>
<line x1="334.74" y1="40.50" x2="336.74" y2="40.50" stroke="#444" stroke-width="0.6"/>
<line x1="235.78" y1="96.40" x2="235.78" y2="100.00" stroke="#444" stroke-width="0.6"/>
<line x1="234.78" y1="96.40" x2="236.78" y2="96.40" stroke="#444" stroke-width="0.6"/>
<line x1="234.78" y1="100.00" x2="236.78" y2="100.00" stroke="#444" stroke-width="0.6"/>
<line x1="250.06" y1="95.30" x2="250.06" y2="99.30" stroke="#444" stroke-width="0.6"/>
<line x1="249.06" y1="95.30" x2="251.06" y2="95.30" stroke="#444" stroke-width="0.6"/>
<line x1="249.06" y1="99.30" x2="251.06" y2="99.30" stroke="#444" stroke-width="0.6"/>
<line x1="264.34" y1="91.50" x2="264.34" y2="96.50" stroke="#444" stroke-width="0.6"/>
<line x1="263.34" y1="91.50" x2="265.34" y2="91.50" stroke="#444" stroke-width="0.6"/>
<line x1="263.34" y1="96.50" x2="265.34" y2="96.50" stroke="#444" stroke-width="0.6"/>
<line x1="278.62" y1="87.80" x2="278.62" y2="93.80" stroke="#444" stroke-width="0.6"/>
<line x1="277.62" y1="87.80" x2="279.62" y2="87.80" stroke="#444" stroke-width="0.6"/>
<line x1="277.62" y1="93.80" x2="279.62" y2="93.80" stroke="#444" stroke-width="0.6"/>
<line x1="292.90" y1="85.20" x2="292.90" y2="92.20" stroke="#444" stroke-width="0.6"/>
<line x1="291.90" y1="85.20" x2="293.90" y2="85.20" stroke="#444" stroke-width="0.6"/>
<line x1="291.90" y1="92.20" x2="293.90" y2="92.20" stroke="#444" stroke-width="0.6"/>
<line x1="307.18" y1="79.80" x2="307.18" y2="87.80" stroke="#444" stroke-width="0.6"/>
<line x1="306.18" y1="79.80" x2="308.18" y2="79.80" stroke="#444" stroke-width="0.6"/>
<line x1="306.18" y1="87.80" x2="308.18" y2="87.80" stroke="#444" stroke-width="0.6"/>
<line x1="321.46" y1="75.00" x2="321.46" y2="84.00" stroke="#444" stroke-width="0.6"/>
<line x1="320.46" y1="75.00" x2="322.46" y2="75.00" stroke="#444" stroke-width="0.6"/>
<line x1="320.46" y1="84.00" x2="322.46" y2="84.00" stroke="#444" stroke-width="0.6"/>
<line x1="335.74" y1="70.70" x2="335.74" y2="80.70" stroke="#444" stroke-width="0.6"/>
<line x1="334.74" y1="70.70" x2="336.74" y2="70.70" stroke="#444" stroke-width="0.6"/>
<line x1="334.74" y1="80.70" x2="336.74" y2="80.70" stroke="#444" stroke-width="0.6"/>
<path d="M221.50,102.40 L223.30,104.20 L221.50,106.00 L219.70,104.20 Z" fill="#aaa" stroke="#555" stroke-width="0.5"/>
<path d="M235.78,96.20 L237.58,98.00 L235.78,99.80 L233.98,98.00 Z" fill="#aaa" stroke="#555" stroke-width="0.5"/>
<path d="M250.06,94.70 L251.86,96.50 L250.06,98.30 L248.26,96.50 Z" fill="#aaa" stroke="#555" stroke-width="0.5"/>
<path d="M264.34,86.90 L266.14,88.70 L264.34,90.50 L262.54,88.70 Z" fill="#aaa" stroke="#555" stroke-width="0.5"/>
<path d="M278.62,84.40 L280.42,86.20 L278.62,88.00 L276.82,86.20 Z" fill="#aaa" stroke="#555" stroke-width="0.5"/>
<path d="M292.90,80.60 L294.70,82.40 L292.90,84.20 L291.10,82.40 Z" fill="#aaa" stroke="#555" stroke-width="0.5"/>
<path d="M307.18,74.70 L308.98,76.50 L307.18,78.30 L305.38,76.50 Z" fill="#aaa" stroke="#555" stroke-width="0.5"/>
<path d="M321.46,68.00 L323.26,69.80 L321.46,71.60 L319.66,69.80 Z" fill="#aaa" stroke="#555" stroke-width="0.5"/>
<path d="M335.74,64.20 L337.54,66.00 L335.74,67.80 L333.94,66.00 Z" fill="#aaa" stroke="#555" stroke-width="0.5"/>
<circle cx="221.50" cy="104.20" r="1.5" fill="#fff" stroke="#333" stroke-width="0.6"/>
<circle cx="235.78" cy="96.00" r="1.5" fill="#fff" stroke="#333" stroke-width="0.6"/>
<circle cx="250.06" cy="88.70" r="1.5" fill="#fff" stroke="#333" stroke-width="0.6"/>
<circle cx="264.34" cy="82.40" r="1.5" fill="#fff" stroke="#333" stroke-width="0.6"/>
<circle cx="278.62" cy="76.00" r="1.5" fill="#fff" stroke="#333" stroke-width="0.6"/>
<circle cx="292.90" cy="71.50" r="1.5" fill="#fff" stroke="#333" stroke-width="0.6"/>
<circle cx="307.18" cy="63.50" r="1.5" fill="#fff" stroke="#333" stroke-width="0.6"/>
<circle cx="321.46" cy="58.50" r="1.5" fill="#fff" stroke="#333" stroke-width="0.6"/>
<circle cx="335.74" cy="52.60" r="1.5" fill="#fff" stroke="#333" stroke-width="0.6"/>
<path d="M219.60,102.90 L223.40,102.90 L221.50,106.10 Z" fill="#111"/>
<path d="M233.88,92.20 L237.68,92.20 L235.78,95.40 Z" fill="#111"/>
<path d="M248.16,87.20 L251.96,87.20 L250.06,90.40 Z" fill="#111"/>
<path d="M262.44,79.00 L266.24,79.00 L264.34,82.20 Z" fill="#111"/>
<path d="M276.72,74.10 L280.52,74.10 L278.62,77.30 Z" fill="#111"/>
<path d="M291.00,69.50 L294.80,69.50 L292.90,72.70 Z" fill="#111"/>
<path d="M305.28,61.20 L309.08,61.20 L307.18,64.40 Z" fill="#111"/>
<path d="M319.56,51.00 L323.36,51.00 L321.46,54.20 Z" fill="#111"/>
<path d="M333.84,45.20 L337.64,45.20 L335.74,48.40 Z" fill="#111"/>
<rect x="219.80" y="102.50" width="3.4" height="3.4" fill="#111"/>
<rect x="234.08" y="90.80" width="3.4" height="3.4" fill="#111"/>
<rect x="248.36" y="82.80" width="3.4" height="3.4" fill="#111"/>
<rect x="262.64" y="76.00" width="3.4" height="3.4" fill="#111"/>
<rect x="276.92" y="64.90" width="3.4" height="3.4" fill="#111"/>
<rect x="291.20" y="57.50" width="3.4" height="3.4" fill="#111"/>
<rect x="305.48" y="49.30" width="3.4" height="3.4" fill="#111"/>
<rect x="319.76" y="38.50" width="3.4" height="3.4" fill="#111"/>
<rect x="334.04" y="33.80" width="3.4" height="3.4" fill="#111"/>
<circle cx="221.50" cy="104.20" r="1.7" fill="#111"/>
<circle cx="235.78" cy="98.20" r="1.7" fill="#111"/>
<circle cx="250.06" cy="97.30" r="1.7" fill="#111"/>
<circle cx="264.34" cy="94.00" r="1.7" fill="#111"/>
<circle cx="278.62" cy="90.80" r="1.7" fill="#111"/>
<circle cx="292.90" cy="88.70" r="1.7" fill="#111"/>
<circle cx="307.18" cy="83.80" r="1.7" fill="#111"/>
<circle cx="321.46" cy="79.50" r="1.7" fill="#111"/>
<circle cx="335.74" cy="75.70" r="1.7" fill="#111"/>
<line x1="346.40" y1="19.90" x2="355.60" y2="19.90" stroke="#555" stroke-width="0.6"/>
<circle cx="351.00" cy="19.90" r="1.7" fill="#111"/>
<text x="361.80" y="21.65" font-size="4.9" font-weight="normal" text-anchor="start" fill="#000" stroke="#000" stroke-width="0.06">ND</text>
<line x1="346.40" y1="30.70" x2="355.60" y2="30.70" stroke="#555" stroke-width="0.6"/>
<rect x="349.30" y="29.00" width="3.4" height="3.4" fill="#111"/>
<text x="361.80" y="32.45" font-size="4.9" font-weight="normal" text-anchor="start" fill="#000" stroke="#000" stroke-width="0.06">HFD</text>
<line x1="346.40" y1="41.50" x2="355.60" y2="41.50" stroke="#555" stroke-width="0.6"/>
<circle cx="351.00" cy="41.50" r="1.5" fill="#fff" stroke="#333" stroke-width="0.6"/>
<text x="361.80" y="43.25" font-size="4.9" font-weight="normal" text-anchor="start" fill="#000" stroke="#000" stroke-width="0.06">H200</text>
<line x1="346.40" y1="53.00" x2="355.60" y2="53.00" stroke="#555" stroke-width="0.6"/>
<path d="M349.10,51.70 L352.90,51.70 L351.00,54.90 Z" fill="#111"/>
<text x="361.80" y="54.75" font-size="4.9" font-weight="normal" text-anchor="start" fill="#000" stroke="#000" stroke-width="0.06">H400</text>
<line x1="346.40" y1="64.00" x2="355.60" y2="64.00" stroke="#555" stroke-width="0.6"/>
<path d="M351.00,62.20 L352.80,64.00 L351.00,65.80 L349.20,64.00 Z" fill="#aaa" stroke="#555" stroke-width="0.5"/>
<text x="361.80" y="65.75" font-size="4.9" font-weight="normal" text-anchor="start" fill="#000" stroke="#000" stroke-width="0.06">H800</text>
<text x="235.80" y="88.70" font-size="5.7" font-weight="normal" text-anchor="middle" fill="#2a2a2a" >A</text>
<text x="232.30" y="94.60" font-size="5.7" font-weight="normal" text-anchor="middle" fill="#2a2a2a" >A</text>
<text x="239.80" y="94.60" font-size="5.7" font-weight="normal" text-anchor="middle" fill="#2a2a2a" >A</text>
<text x="235.80" y="105.00" font-size="5.7" font-weight="normal" text-anchor="middle" fill="#2a2a2a" >B</text>
<text x="250.00" y="81.40" font-size="5.7" font-weight="normal" text-anchor="middle" fill="#2a2a2a" >A</text>
<text x="254.00" y="91.70" font-size="5.7" font-weight="normal" text-anchor="middle" fill="#2a2a2a" >A</text>
<text x="254.50" y="100.30" font-size="5.7" font-weight="normal" text-anchor="middle" fill="#2a2a2a" >B</text>
<text x="240.50" y="102.20" font-size="5.7" font-weight="normal" text-anchor="middle" fill="#2a2a2a" >B</text>
<text x="250.00" y="102.50" font-size="5.7" font-weight="normal" text-anchor="middle" fill="#2a2a2a" >B</text>
<text x="264.40" y="73.60" font-size="5.7" font-weight="normal" text-anchor="middle" fill="#2a2a2a" >A</text>
<text x="259.00" y="80.50" font-size="5.7" font-weight="normal" text-anchor="middle" fill="#2a2a2a" >AB</text>
<text x="270.00" y="82.30" font-size="5.7" font-weight="normal" text-anchor="middle" fill="#2a2a2a" >AB</text>
<text x="271.00" y="92.80" font-size="5.7" font-weight="normal" text-anchor="middle" fill="#2a2a2a" >BC</text>
<text x="264.40" y="99.90" font-size="5.7" font-weight="normal" text-anchor="middle" fill="#2a2a2a" >C</text>
<text x="278.70" y="61.00" font-size="5.7" font-weight="normal" text-anchor="middle" fill="#2a2a2a" >A</text>
<text x="274.00" y="77.00" font-size="5.7" font-weight="normal" text-anchor="middle" fill="#2a2a2a" >B</text>
<text x="284.00" y="88.20" font-size="5.7" font-weight="normal" text-anchor="middle" fill="#2a2a2a" >BC</text>
<text x="278.70" y="97.20" font-size="5.7" font-weight="normal" text-anchor="middle" fill="#2a2a2a" >C</text>
<text x="293.00" y="54.00" font-size="5.7" font-weight="normal" text-anchor="middle" fill="#2a2a2a" >A</text>
<text x="289.00" y="72.00" font-size="5.7" font-weight="normal" text-anchor="middle" fill="#2a2a2a" >A</text>
<text x="298.50" y="74.90" font-size="5.7" font-weight="normal" text-anchor="middle" fill="#2a2a2a" >BC</text>
<text x="293.00" y="95.40" font-size="5.7" font-weight="normal" text-anchor="middle" fill="#2a2a2a" >D</text>
<text x="307.50" y="45.00" font-size="5.7" font-weight="normal" text-anchor="middle" fill="#2a2a2a" >A</text>
<text x="303.00" y="64.00" font-size="5.7" font-weight="normal" text-anchor="middle" fill="#2a2a2a" >A</text>
<text x="312.00" y="65.00" font-size="5.7" font-weight="normal" text-anchor="middle" fill="#2a2a2a" >A</text>
<text x="311.00" y="80.00" font-size="5.7" font-weight="normal" text-anchor="middle" fill="#2a2a2a" >C</text>
<text x="307.50" y="90.80" font-size="5.7" font-weight="normal" text-anchor="middle" fill="#2a2a2a" >B</text>
<text x="321.80" y="33.80" font-size="5.7" font-weight="normal" text-anchor="middle" fill="#2a2a2a" >A</text>
<text x="316.00" y="54.50" font-size="5.7" font-weight="normal" text-anchor="middle" fill="#2a2a2a" >AB</text>
<text x="327.00" y="60.00" font-size="5.7" font-weight="normal" text-anchor="middle" fill="#2a2a2a" >BC</text>
<text x="326.00" y="73.00" font-size="5.7" font-weight="normal" text-anchor="middle" fill="#2a2a2a" >C</text>
<text x="321.80" y="86.30" font-size="5.7" font-weight="normal" text-anchor="middle" fill="#2a2a2a" >C</text>
<text x="335.80" y="28.80" font-size="5.7" font-weight="normal" text-anchor="middle" fill="#2a2a2a" >A</text>
<text x="331.40" y="48.00" font-size="5.7" font-weight="normal" text-anchor="middle" fill="#2a2a2a" >AB</text>
<text x="340.50" y="54.80" font-size="5.7" font-weight="normal" text-anchor="middle" fill="#2a2a2a" >BC</text>
<text x="340.50" y="68.20" font-size="5.7" font-weight="normal" text-anchor="middle" fill="#2a2a2a" >C</text>
<text x="335.80" y="82.50" font-size="5.7" font-weight="normal" text-anchor="middle" fill="#2a2a2a" >C</text>
<defs><pattern id="hatch" width="2.2" height="2.2" patternUnits="userSpaceOnUse"><rect width="2.2" height="2.2" fill="#111"/><circle cx="0" cy="0" r="0.55" fill="#f0f0f0"/><circle cx="2.2" cy="0" r="0.55" fill="#f0f0f0"/><circle cx="0" cy="2.2" r="0.55" fill="#f0f0f0"/><circle cx="2.2" cy="2.2" r="0.55" fill="#f0f0f0"/><circle cx="1.1" cy="1.1" r="0.55" fill="#f0f0f0"/></pattern></defs>
<line x1="16.90" y1="168.70" x2="16.90" y2="239.20" stroke="#222" stroke-width="0.9"/>
<line x1="16.90" y1="239.20" x2="121.40" y2="239.20" stroke="#222" stroke-width="0.9"/>
<line x1="14.90" y1="239.20" x2="16.90" y2="239.20" stroke="#222" stroke-width="0.8"/>
<text x="14.10" y="241.20" font-size="5.6" font-weight="bold" text-anchor="end" fill="#222" >0</text>
<line x1="14.90" y1="221.70" x2="16.90" y2="221.70" stroke="#222" stroke-width="0.8"/>
<text x="14.10" y="223.70" font-size="5.6" font-weight="bold" text-anchor="end" fill="#222" >5</text>
<line x1="14.90" y1="204.20" x2="16.90" y2="204.20" stroke="#222" stroke-width="0.8"/>
<text x="14.10" y="206.20" font-size="5.6" font-weight="bold" text-anchor="end" fill="#222" >10</text>
<line x1="14.90" y1="186.70" x2="16.90" y2="186.70" stroke="#222" stroke-width="0.8"/>
<text x="14.10" y="188.70" font-size="5.6" font-weight="bold" text-anchor="end" fill="#222" >15</text>
<line x1="14.90" y1="169.20" x2="16.90" y2="169.20" stroke="#222" stroke-width="0.8"/>
<text x="14.10" y="171.20" font-size="5.6" font-weight="bold" text-anchor="end" fill="#222" >20</text>
<text x="0" y="0" font-size="6.1" font-weight="bold" text-anchor="middle" fill="#111" transform="translate(6.3,202.2) rotate(-90)">Weight gain (g/8 wks)</text>
<line x1="22.65" y1="227.70" x2="22.65" y2="229.20" stroke="#444" stroke-width="0.6"/>
<line x1="21.45" y1="227.70" x2="23.85" y2="227.70" stroke="#444" stroke-width="0.6"/>
<rect x="20.20" y="229.20" width="4.9" height="10.00" fill="#7d7d7d" stroke="#555" stroke-width="0.6"/>
<line x1="22.65" y1="239.20" x2="22.65" y2="240.70" stroke="#222" stroke-width="0.6"/>
<text x="0" y="0" font-size="5.6" font-weight="bold" text-anchor="end" fill="#1a1a1a" stroke="#1a1a1a" stroke-width="0.18" transform="translate(25.05,247.00) rotate(-37)">Female</text>
<line x1="30.55" y1="214.60" x2="30.55" y2="216.10" stroke="#444" stroke-width="0.6"/>
<line x1="29.35" y1="214.60" x2="31.75" y2="214.60" stroke="#444" stroke-width="0.6"/>
<rect x="28.10" y="216.10" width="4.9" height="23.10" fill="#7d7d7d" stroke="#555" stroke-width="0.6"/>
<line x1="30.55" y1="239.20" x2="30.55" y2="240.70" stroke="#222" stroke-width="0.6"/>
<text x="0" y="0" font-size="5.6" font-weight="bold" text-anchor="end" fill="#1a1a1a" stroke="#1a1a1a" stroke-width="0.18" transform="translate(32.95,247.00) rotate(-37)">Male</text>
<line x1="44.00" y1="205.00" x2="44.00" y2="207.00" stroke="#444" stroke-width="0.6"/>
<line x1="42.80" y1="205.00" x2="45.20" y2="205.00" stroke="#444" stroke-width="0.6"/>
<rect x="41.55" y="207.00" width="4.9" height="32.20" fill="url(#hatch)" stroke="#222" stroke-width="0.6"/>
<line x1="44.00" y1="239.20" x2="44.00" y2="240.70" stroke="#222" stroke-width="0.6"/>
<text x="0" y="0" font-size="5.6" font-weight="bold" text-anchor="end" fill="#1a1a1a" stroke="#1a1a1a" stroke-width="0.18" transform="translate(46.40,247.00) rotate(-37)">Female</text>
<line x1="52.10" y1="181.70" x2="52.10" y2="183.70" stroke="#444" stroke-width="0.6"/>
<line x1="50.90" y1="181.70" x2="53.30" y2="181.70" stroke="#444" stroke-width="0.6"/>
<rect x="49.65" y="183.70" width="4.9" height="55.50" fill="url(#hatch)" stroke="#222" stroke-width="0.6"/>
<line x1="52.10" y1="239.20" x2="52.10" y2="240.70" stroke="#222" stroke-width="0.6"/>
<text x="0" y="0" font-size="5.6" font-weight="bold" text-anchor="end" fill="#1a1a1a" stroke="#1a1a1a" stroke-width="0.18" transform="translate(54.50,247.00) rotate(-37)">Male</text>
<line x1="64.55" y1="212.50" x2="64.55" y2="214.50" stroke="#444" stroke-width="0.6"/>
<line x1="63.35" y1="212.50" x2="65.75" y2="212.50" stroke="#444" stroke-width="0.6"/>
<rect x="62.10" y="214.50" width="4.9" height="24.70" fill="#fff" stroke="#333" stroke-width="0.6"/>
<line x1="64.55" y1="239.20" x2="64.55" y2="240.70" stroke="#222" stroke-width="0.6"/>
<text x="0" y="0" font-size="5.6" font-weight="bold" text-anchor="end" fill="#1a1a1a" stroke="#1a1a1a" stroke-width="0.18" transform="translate(66.95,247.00) rotate(-37)">Female</text>
<line x1="72.35" y1="196.30" x2="72.35" y2="197.80" stroke="#444" stroke-width="0.6"/>
<line x1="71.15" y1="196.30" x2="73.55" y2="196.30" stroke="#444" stroke-width="0.6"/>
<rect x="69.90" y="197.80" width="4.9" height="41.40" fill="#fff" stroke="#333" stroke-width="0.6"/>
<line x1="72.35" y1="239.20" x2="72.35" y2="240.70" stroke="#222" stroke-width="0.6"/>
<text x="0" y="0" font-size="5.6" font-weight="bold" text-anchor="end" fill="#1a1a1a" stroke="#1a1a1a" stroke-width="0.18" transform="translate(74.75,247.00) rotate(-37)">Male</text>
<line x1="85.30" y1="210.00" x2="85.30" y2="211.80" stroke="#444" stroke-width="0.6"/>
<line x1="84.10" y1="210.00" x2="86.50" y2="210.00" stroke="#444" stroke-width="0.6"/>
<rect x="82.85" y="211.80" width="4.9" height="27.40" fill="#111" stroke="#111" stroke-width="0.6"/>
<line x1="85.30" y1="239.20" x2="85.30" y2="240.70" stroke="#222" stroke-width="0.6"/>
<text x="0" y="0" font-size="5.6" font-weight="bold" text-anchor="end" fill="#1a1a1a" stroke="#1a1a1a" stroke-width="0.18" transform="translate(87.70,247.00) rotate(-37)">Female</text>
<line x1="93.20" y1="192.00" x2="93.20" y2="194.00" stroke="#444" stroke-width="0.6"/>
<line x1="92.00" y1="192.00" x2="94.40" y2="192.00" stroke="#444" stroke-width="0.6"/>
<rect x="90.75" y="194.00" width="4.9" height="45.20" fill="#111" stroke="#111" stroke-width="0.6"/>
<line x1="93.20" y1="239.20" x2="93.20" y2="240.70" stroke="#222" stroke-width="0.6"/>
<text x="0" y="0" font-size="5.6" font-weight="bold" text-anchor="end" fill="#1a1a1a" stroke="#1a1a1a" stroke-width="0.18" transform="translate(95.60,247.00) rotate(-37)">Male</text>
<line x1="106.50" y1="215.30" x2="106.50" y2="217.30" stroke="#444" stroke-width="0.6"/>
<line x1="105.30" y1="215.30" x2="107.70" y2="215.30" stroke="#444" stroke-width="0.6"/>
<rect x="104.05" y="217.30" width="4.9" height="21.90" fill="#888" stroke="#666" stroke-width="0.6"/>
<line x1="106.50" y1="239.20" x2="106.50" y2="240.70" stroke="#222" stroke-width="0.6"/>
<text x="0" y="0" font-size="5.6" font-weight="bold" text-anchor="end" fill="#1a1a1a" stroke="#1a1a1a" stroke-width="0.18" transform="translate(108.90,247.00) rotate(-37)">Female</text>
<line x1="114.20" y1="206.80" x2="114.20" y2="208.80" stroke="#444" stroke-width="0.6"/>
<line x1="113.00" y1="206.80" x2="115.40" y2="206.80" stroke="#444" stroke-width="0.6"/>
<rect x="111.75" y="208.80" width="4.9" height="30.40" fill="#888" stroke="#666" stroke-width="0.6"/>
<line x1="114.20" y1="239.20" x2="114.20" y2="240.70" stroke="#222" stroke-width="0.6"/>
<text x="0" y="0" font-size="5.6" font-weight="bold" text-anchor="end" fill="#1a1a1a" stroke="#1a1a1a" stroke-width="0.18" transform="translate(116.60,247.00) rotate(-37)">Male</text>
<text x="22.65" y="227.30" font-size="6.8" font-weight="normal" text-anchor="middle" fill="#333" >c</text>
<text x="30.55" y="214.60" font-size="6.8" font-weight="normal" text-anchor="middle" fill="#333" >C</text>
<text x="44.00" y="203.80" font-size="6.8" font-weight="normal" text-anchor="middle" fill="#333" >a</text>
<text x="52.10" y="178.00" font-size="6.8" font-weight="normal" text-anchor="middle" fill="#333" >A</text>
<text x="64.55" y="212.40" font-size="6.8" font-weight="normal" text-anchor="middle" fill="#333" >ab</text>
<text x="72.35" y="194.10" font-size="6.8" font-weight="normal" text-anchor="middle" fill="#333" >B</text>
<text x="85.30" y="207.70" font-size="6.8" font-weight="normal" text-anchor="middle" fill="#333" >ab</text>
<text x="93.20" y="189.40" font-size="6.8" font-weight="normal" text-anchor="middle" fill="#333" >B</text>
<text x="106.50" y="214.40" font-size="6.8" font-weight="normal" text-anchor="middle" fill="#333" >c</text>
<text x="114.20" y="203.10" font-size="6.8" font-weight="normal" text-anchor="middle" fill="#333" >C</text>
<polyline points="23.00,221.00 23.00,193.30 32.20,193.30 32.20,208.00" fill="none" stroke="#333" stroke-width="0.7"/>
<text x="27.60" y="194.20" font-size="6.0" font-weight="bold" text-anchor="middle" fill="#222" >**</text>
<polyline points="43.70,196.00 43.70,153.10 52.50,153.10 52.50,163.00" fill="none" stroke="#333" stroke-width="0.7"/>
<text x="48.10" y="154.00" font-size="6.0" font-weight="bold" text-anchor="middle" fill="#222" >*</text>
<polyline points="64.40,205.00 64.40,174.50 72.50,174.50 72.50,185.00" fill="none" stroke="#333" stroke-width="0.7"/>
<text x="68.45" y="175.40" font-size="6.0" font-weight="bold" text-anchor="middle" fill="#222" >*</text>
<polyline points="85.00,200.00 85.00,158.40 93.00,158.40 93.00,175.60" fill="none" stroke="#333" stroke-width="0.7"/>
<text x="89.00" y="159.30" font-size="6.0" font-weight="bold" text-anchor="middle" fill="#222" >*</text>
<line x1="148.00" y1="168.60" x2="148.00" y2="238.70" stroke="#222" stroke-width="0.9"/>
<line x1="148.00" y1="238.70" x2="250.50" y2="238.70" stroke="#222" stroke-width="0.9"/>
<line x1="146.00" y1="238.70" x2="148.00" y2="238.70" stroke="#222" stroke-width="0.8"/>
<text x="145.20" y="240.70" font-size="5.6" font-weight="bold" text-anchor="end" fill="#222" >0</text>
<line x1="146.00" y1="215.50" x2="148.00" y2="215.50" stroke="#222" stroke-width="0.8"/>
<text x="145.20" y="217.50" font-size="5.6" font-weight="bold" text-anchor="end" fill="#222" >100</text>
<line x1="146.00" y1="192.30" x2="148.00" y2="192.30" stroke="#222" stroke-width="0.8"/>
<text x="145.20" y="194.30" font-size="5.6" font-weight="bold" text-anchor="end" fill="#222" >200</text>
<line x1="146.00" y1="169.10" x2="148.00" y2="169.10" stroke="#222" stroke-width="0.8"/>
<text x="145.20" y="171.10" font-size="5.6" font-weight="bold" text-anchor="end" fill="#222" >300</text>
<text x="0" y="0" font-size="5.9" font-weight="bold" text-anchor="middle" fill="#111" transform="translate(134.1,204.4) rotate(-90)">Total food intake (g)</text>
<line x1="154.60" y1="187.00" x2="154.60" y2="188.00" stroke="#444" stroke-width="0.6"/>
<line x1="153.40" y1="187.00" x2="155.80" y2="187.00" stroke="#444" stroke-width="0.6"/>
<rect x="152.15" y="188.00" width="4.9" height="50.70" fill="#7d7d7d" stroke="#555" stroke-width="0.6"/>
<line x1="154.60" y1="238.70" x2="154.60" y2="240.20" stroke="#222" stroke-width="0.6"/>
<text x="0" y="0" font-size="5.6" font-weight="bold" text-anchor="end" fill="#1a1a1a" stroke="#1a1a1a" stroke-width="0.18" transform="translate(157.00,246.50) rotate(-37)">Female</text>
<line x1="162.75" y1="179.30" x2="162.75" y2="180.50" stroke="#444" stroke-width="0.6"/>
<line x1="161.55" y1="179.30" x2="163.95" y2="179.30" stroke="#444" stroke-width="0.6"/>
<rect x="160.30" y="180.50" width="4.9" height="58.20" fill="#7d7d7d" stroke="#555" stroke-width="0.6"/>
<line x1="162.75" y1="238.70" x2="162.75" y2="240.20" stroke="#222" stroke-width="0.6"/>
<text x="0" y="0" font-size="5.6" font-weight="bold" text-anchor="end" fill="#1a1a1a" stroke="#1a1a1a" stroke-width="0.18" transform="translate(165.15,246.50) rotate(-37)">Male</text>
<line x1="175.90" y1="188.80" x2="175.90" y2="189.80" stroke="#444" stroke-width="0.6"/>
<line x1="174.70" y1="188.80" x2="177.10" y2="188.80" stroke="#444" stroke-width="0.6"/>
<rect x="173.45" y="189.80" width="4.9" height="48.90" fill="url(#hatch)" stroke="#222" stroke-width="0.6"/>
<line x1="175.90" y1="238.70" x2="175.90" y2="240.20" stroke="#222" stroke-width="0.6"/>
<text x="0" y="0" font-size="5.6" font-weight="bold" text-anchor="end" fill="#1a1a1a" stroke="#1a1a1a" stroke-width="0.18" transform="translate(178.30,246.50) rotate(-37)">Female</text>
<line x1="183.50" y1="183.80" x2="183.50" y2="184.80" stroke="#444" stroke-width="0.6"/>
<line x1="182.30" y1="183.80" x2="184.70" y2="183.80" stroke="#444" stroke-width="0.6"/>
<rect x="181.05" y="184.80" width="4.9" height="53.90" fill="url(#hatch)" stroke="#222" stroke-width="0.6"/>
<line x1="183.50" y1="238.70" x2="183.50" y2="240.20" stroke="#222" stroke-width="0.6"/>
<text x="0" y="0" font-size="5.6" font-weight="bold" text-anchor="end" fill="#1a1a1a" stroke="#1a1a1a" stroke-width="0.18" transform="translate(185.90,246.50) rotate(-37)">Male</text>
<line x1="196.50" y1="190.30" x2="196.50" y2="191.30" stroke="#444" stroke-width="0.6"/>
<line x1="195.30" y1="190.30" x2="197.70" y2="190.30" stroke="#444" stroke-width="0.6"/>
<rect x="194.05" y="191.30" width="4.9" height="47.40" fill="#fff" stroke="#333" stroke-width="0.6"/>
<line x1="196.50" y1="238.70" x2="196.50" y2="240.20" stroke="#222" stroke-width="0.6"/>
<text x="0" y="0" font-size="5.6" font-weight="bold" text-anchor="end" fill="#1a1a1a" stroke="#1a1a1a" stroke-width="0.18" transform="translate(198.90,246.50) rotate(-37)">Female</text>
<line x1="204.10" y1="187.80" x2="204.10" y2="188.80" stroke="#444" stroke-width="0.6"/>
<line x1="202.90" y1="187.80" x2="205.30" y2="187.80" stroke="#444" stroke-width="0.6"/>
<rect x="201.65" y="188.80" width="4.9" height="49.90" fill="#fff" stroke="#333" stroke-width="0.6"/>
<line x1="204.10" y1="238.70" x2="204.10" y2="240.20" stroke="#222" stroke-width="0.6"/>
<text x="0" y="0" font-size="5.6" font-weight="bold" text-anchor="end" fill="#1a1a1a" stroke="#1a1a1a" stroke-width="0.18" transform="translate(206.50,246.50) rotate(-37)">Male</text>
<line x1="217.30" y1="191.50" x2="217.30" y2="192.50" stroke="#444" stroke-width="0.6"/>
<line x1="216.10" y1="191.50" x2="218.50" y2="191.50" stroke="#444" stroke-width="0.6"/>
<rect x="214.85" y="192.50" width="4.9" height="46.20" fill="#111" stroke="#111" stroke-width="0.6"/>
<line x1="217.30" y1="238.70" x2="217.30" y2="240.20" stroke="#222" stroke-width="0.6"/>
<text x="0" y="0" font-size="5.6" font-weight="bold" text-anchor="end" fill="#1a1a1a" stroke="#1a1a1a" stroke-width="0.18" transform="translate(219.70,246.50) rotate(-37)">Female</text>
<line x1="225.40" y1="186.20" x2="225.40" y2="187.20" stroke="#444" stroke-width="0.6"/>
<line x1="224.20" y1="186.20" x2="226.60" y2="186.20" stroke="#444" stroke-width="0.6"/>
<rect x="222.95" y="187.20" width="4.9" height="51.50" fill="#111" stroke="#111" stroke-width="0.6"/>
<line x1="225.40" y1="238.70" x2="225.40" y2="240.20" stroke="#222" stroke-width="0.6"/>
<text x="0" y="0" font-size="5.6" font-weight="bold" text-anchor="end" fill="#1a1a1a" stroke="#1a1a1a" stroke-width="0.18" transform="translate(227.80,246.50) rotate(-37)">Male</text>
<line x1="238.20" y1="188.00" x2="238.20" y2="189.50" stroke="#444" stroke-width="0.6"/>
<line x1="237.00" y1="188.00" x2="239.40" y2="188.00" stroke="#444" stroke-width="0.6"/>
<rect x="235.75" y="189.50" width="4.9" height="49.20" fill="#888" stroke="#666" stroke-width="0.6"/>
<line x1="238.20" y1="238.70" x2="238.20" y2="240.20" stroke="#222" stroke-width="0.6"/>
<text x="0" y="0" font-size="5.6" font-weight="bold" text-anchor="end" fill="#1a1a1a" stroke="#1a1a1a" stroke-width="0.18" transform="translate(240.60,246.50) rotate(-37)">Female</text>
<line x1="246.50" y1="187.00" x2="246.50" y2="189.50" stroke="#444" stroke-width="0.6"/>
<line x1="245.30" y1="187.00" x2="247.70" y2="187.00" stroke="#444" stroke-width="0.6"/>
<rect x="244.05" y="189.50" width="4.9" height="49.20" fill="#888" stroke="#666" stroke-width="0.6"/>
<line x1="246.50" y1="238.70" x2="246.50" y2="240.20" stroke="#222" stroke-width="0.6"/>
<text x="0" y="0" font-size="5.6" font-weight="bold" text-anchor="end" fill="#1a1a1a" stroke="#1a1a1a" stroke-width="0.18" transform="translate(248.90,246.50) rotate(-37)">Male</text>
<text x="162.75" y="178.10" font-size="6.8" font-weight="normal" text-anchor="middle" fill="#333" >A</text>
<text x="183.50" y="181.90" font-size="6.8" font-weight="normal" text-anchor="middle" fill="#333" >B</text>
<text x="204.10" y="186.10" font-size="6.8" font-weight="normal" text-anchor="middle" fill="#333" >AB</text>
<text x="225.40" y="184.10" font-size="6.8" font-weight="normal" text-anchor="middle" fill="#333" >AB</text>
<text x="246.50" y="185.70" font-size="6.8" font-weight="normal" text-anchor="middle" fill="#333" >C</text>
<polyline points="154.40,186.70 154.40,156.80 163.00,156.80 163.00,171.80" fill="none" stroke="#333" stroke-width="0.7"/>
<text x="158.70" y="157.70" font-size="6.0" font-weight="bold" text-anchor="middle" fill="#222" >*</text>
<polyline points="175.70,187.00 175.70,158.40 183.80,158.40 183.80,171.00" fill="none" stroke="#333" stroke-width="0.7"/>
<text x="179.75" y="159.30" font-size="6.0" font-weight="bold" text-anchor="middle" fill="#222" >*</text>
<polyline points="196.40,189.00 196.40,160.20 204.50,160.20 204.50,178.00" fill="none" stroke="#333" stroke-width="0.7"/>
<text x="200.45" y="161.10" font-size="6.0" font-weight="bold" text-anchor="middle" fill="#222" >*</text>
<line x1="276.40" y1="169.40" x2="276.40" y2="238.30" stroke="#222" stroke-width="0.9"/>
<line x1="276.40" y1="238.30" x2="380.00" y2="238.30" stroke="#222" stroke-width="0.9"/>
<line x1="274.40" y1="238.30" x2="276.40" y2="238.30" stroke="#222" stroke-width="0.8"/>
<text x="273.60" y="240.30" font-size="5.6" font-weight="bold" text-anchor="end" fill="#222" >0.00</text>
<line x1="274.40" y1="221.20" x2="276.40" y2="221.20" stroke="#222" stroke-width="0.8"/>
<text x="273.60" y="223.20" font-size="5.6" font-weight="bold" text-anchor="end" fill="#222" >0.05</text>
<line x1="274.40" y1="204.10" x2="276.40" y2="204.10" stroke="#222" stroke-width="0.8"/>
<text x="273.60" y="206.10" font-size="5.6" font-weight="bold" text-anchor="end" fill="#222" >0.10</text>
<line x1="274.40" y1="187.00" x2="276.40" y2="187.00" stroke="#222" stroke-width="0.8"/>
<text x="273.60" y="189.00" font-size="5.6" font-weight="bold" text-anchor="end" fill="#222" >0.15</text>
<line x1="274.40" y1="169.90" x2="276.40" y2="169.90" stroke="#222" stroke-width="0.8"/>
<text x="273.60" y="171.90" font-size="5.6" font-weight="bold" text-anchor="end" fill="#222" >0.20</text>
<text x="0" y="0" font-size="6.2" font-weight="bold" text-anchor="middle" fill="#111" transform="translate(261.0,206.0) rotate(-90)">FER</text>
<line x1="282.75" y1="228.30" x2="282.75" y2="229.50" stroke="#444" stroke-width="0.6"/>
<line x1="281.55" y1="228.30" x2="283.95" y2="228.30" stroke="#444" stroke-width="0.6"/>
<rect x="280.30" y="229.50" width="4.9" height="8.80" fill="#7d7d7d" stroke="#555" stroke-width="0.6"/>
<line x1="282.75" y1="238.30" x2="282.75" y2="239.80" stroke="#222" stroke-width="0.6"/>
<text x="0" y="0" font-size="5.6" font-weight="bold" text-anchor="end" fill="#1a1a1a" stroke="#1a1a1a" stroke-width="0.18" transform="translate(285.15,246.10) rotate(-37)">Female</text>
<line x1="290.90" y1="218.40" x2="290.90" y2="219.90" stroke="#444" stroke-width="0.6"/>
<line x1="289.70" y1="218.40" x2="292.10" y2="218.40" stroke="#444" stroke-width="0.6"/>
<rect x="288.45" y="219.90" width="4.9" height="18.40" fill="#7d7d7d" stroke="#555" stroke-width="0.6"/>
<line x1="290.90" y1="238.30" x2="290.90" y2="239.80" stroke="#222" stroke-width="0.6"/>
<text x="0" y="0" font-size="5.6" font-weight="bold" text-anchor="end" fill="#1a1a1a" stroke="#1a1a1a" stroke-width="0.18" transform="translate(293.30,246.10) rotate(-37)">Male</text>
<line x1="304.00" y1="206.40" x2="304.00" y2="208.40" stroke="#444" stroke-width="0.6"/>
<line x1="302.80" y1="206.40" x2="305.20" y2="206.40" stroke="#444" stroke-width="0.6"/>
<rect x="301.55" y="208.40" width="4.9" height="29.90" fill="url(#hatch)" stroke="#222" stroke-width="0.6"/>
<line x1="304.00" y1="238.30" x2="304.00" y2="239.80" stroke="#222" stroke-width="0.6"/>
<text x="0" y="0" font-size="5.6" font-weight="bold" text-anchor="end" fill="#1a1a1a" stroke="#1a1a1a" stroke-width="0.18" transform="translate(306.40,246.10) rotate(-37)">Female</text>
<line x1="311.50" y1="188.80" x2="311.50" y2="191.80" stroke="#444" stroke-width="0.6"/>
<line x1="310.30" y1="188.80" x2="312.70" y2="188.80" stroke="#444" stroke-width="0.6"/>
<rect x="309.05" y="191.80" width="4.9" height="46.50" fill="url(#hatch)" stroke="#222" stroke-width="0.6"/>
<line x1="311.50" y1="238.30" x2="311.50" y2="239.80" stroke="#222" stroke-width="0.6"/>
<text x="0" y="0" font-size="5.6" font-weight="bold" text-anchor="end" fill="#1a1a1a" stroke="#1a1a1a" stroke-width="0.18" transform="translate(313.90,246.10) rotate(-37)">Male</text>
<line x1="324.75" y1="213.50" x2="324.75" y2="215.00" stroke="#444" stroke-width="0.6"/>
<line x1="323.55" y1="213.50" x2="325.95" y2="213.50" stroke="#444" stroke-width="0.6"/>
<rect x="322.30" y="215.00" width="4.9" height="23.30" fill="#fff" stroke="#333" stroke-width="0.6"/>
<line x1="324.75" y1="238.30" x2="324.75" y2="239.80" stroke="#222" stroke-width="0.6"/>
<text x="0" y="0" font-size="5.6" font-weight="bold" text-anchor="end" fill="#1a1a1a" stroke="#1a1a1a" stroke-width="0.18" transform="translate(327.15,246.10) rotate(-37)">Female</text>
<line x1="332.25" y1="197.40" x2="332.25" y2="199.40" stroke="#444" stroke-width="0.6"/>
<line x1="331.05" y1="197.40" x2="333.45" y2="197.40" stroke="#444" stroke-width="0.6"/>
<rect x="329.80" y="199.40" width="4.9" height="38.90" fill="#fff" stroke="#333" stroke-width="0.6"/>
<line x1="332.25" y1="238.30" x2="332.25" y2="239.80" stroke="#222" stroke-width="0.6"/>
<text x="0" y="0" font-size="5.6" font-weight="bold" text-anchor="end" fill="#1a1a1a" stroke="#1a1a1a" stroke-width="0.18" transform="translate(334.65,246.10) rotate(-37)">Male</text>
<line x1="345.40" y1="210.25" x2="345.40" y2="211.75" stroke="#444" stroke-width="0.6"/>
<line x1="344.20" y1="210.25" x2="346.60" y2="210.25" stroke="#444" stroke-width="0.6"/>
<rect x="342.95" y="211.75" width="4.9" height="26.55" fill="#111" stroke="#111" stroke-width="0.6"/>
<line x1="345.40" y1="238.30" x2="345.40" y2="239.80" stroke="#222" stroke-width="0.6"/>
<text x="0" y="0" font-size="5.6" font-weight="bold" text-anchor="end" fill="#1a1a1a" stroke="#1a1a1a" stroke-width="0.18" transform="translate(347.80,246.10) rotate(-37)">Female</text>
<line x1="352.75" y1="195.10" x2="352.75" y2="197.10" stroke="#444" stroke-width="0.6"/>
<line x1="351.55" y1="195.10" x2="353.95" y2="195.10" stroke="#444" stroke-width="0.6"/>
<rect x="350.30" y="197.10" width="4.9" height="41.20" fill="#111" stroke="#111" stroke-width="0.6"/>
<line x1="352.75" y1="238.30" x2="352.75" y2="239.80" stroke="#222" stroke-width="0.6"/>
<text x="0" y="0" font-size="5.6" font-weight="bold" text-anchor="end" fill="#1a1a1a" stroke="#1a1a1a" stroke-width="0.18" transform="translate(355.15,246.10) rotate(-37)">Male</text>
<line x1="366.00" y1="216.25" x2="366.00" y2="218.25" stroke="#444" stroke-width="0.6"/>
<line x1="364.80" y1="216.25" x2="367.20" y2="216.25" stroke="#444" stroke-width="0.6"/>
<rect x="363.55" y="218.25" width="4.9" height="20.05" fill="#888" stroke="#666" stroke-width="0.6"/>
<line x1="366.00" y1="238.30" x2="366.00" y2="239.80" stroke="#222" stroke-width="0.6"/>
<text x="0" y="0" font-size="5.6" font-weight="bold" text-anchor="end" fill="#1a1a1a" stroke="#1a1a1a" stroke-width="0.18" transform="translate(368.40,246.10) rotate(-37)">Female</text>
<line x1="373.75" y1="208.25" x2="373.75" y2="210.75" stroke="#444" stroke-width="0.6"/>
<line x1="372.55" y1="208.25" x2="374.95" y2="208.25" stroke="#444" stroke-width="0.6"/>
<rect x="371.30" y="210.75" width="4.9" height="27.55" fill="#888" stroke="#666" stroke-width="0.6"/>
<line x1="373.75" y1="238.30" x2="373.75" y2="239.80" stroke="#222" stroke-width="0.6"/>
<text x="0" y="0" font-size="5.6" font-weight="bold" text-anchor="end" fill="#1a1a1a" stroke="#1a1a1a" stroke-width="0.18" transform="translate(376.15,246.10) rotate(-37)">Male</text>
<text x="282.75" y="226.90" font-size="6.8" font-weight="normal" text-anchor="middle" fill="#333" >c</text>
<text x="290.90" y="218.40" font-size="6.8" font-weight="normal" text-anchor="middle" fill="#333" >C</text>
<text x="304.00" y="203.40" font-size="6.8" font-weight="normal" text-anchor="middle" fill="#333" >a</text>
<text x="311.50" y="186.40" font-size="6.8" font-weight="normal" text-anchor="middle" fill="#333" >A</text>
<text x="324.75" y="212.40" font-size="6.8" font-weight="normal" text-anchor="middle" fill="#333" >ab</text>
<text x="332.25" y="196.10" font-size="6.8" font-weight="normal" text-anchor="middle" fill="#333" >B</text>
<text x="345.40" y="207.10" font-size="6.8" font-weight="normal" text-anchor="middle" fill="#333" >ab</text>
<text x="352.75" y="193.80" font-size="6.8" font-weight="normal" text-anchor="middle" fill="#333" >AB</text>
<text x="366.00" y="214.90" font-size="6.8" font-weight="normal" text-anchor="middle" fill="#333" >b</text>
<text x="373.75" y="206.15" font-size="6.8" font-weight="normal" text-anchor="middle" fill="#333" >C</text>
<polyline points="282.20,220.00 282.20,196.40 291.00,196.40 291.00,210.00" fill="none" stroke="#333" stroke-width="0.7"/>
<text x="286.60" y="197.30" font-size="6.0" font-weight="bold" text-anchor="middle" fill="#222" >**</text>
<polyline points="303.40,195.00 303.40,166.60 310.30,166.60 310.30,175.30" fill="none" stroke="#333" stroke-width="0.7"/>
<text x="306.85" y="167.50" font-size="6.0" font-weight="bold" text-anchor="middle" fill="#222" >*</text>
<polyline points="324.80,205.00 324.80,173.70 333.30,173.70 333.30,185.60" fill="none" stroke="#333" stroke-width="0.7"/>
<text x="329.05" y="174.60" font-size="6.0" font-weight="bold" text-anchor="middle" fill="#222" >**</text>
<polyline points="344.80,198.00 344.80,169.50 354.00,169.50 354.00,182.00" fill="none" stroke="#333" stroke-width="0.7"/>
<text x="349.40" y="170.40" font-size="6.0" font-weight="bold" text-anchor="middle" fill="#222" >*</text>
<rect x="376.7" y="157.10" width="8.8" height="2.0" fill="#7d7d7d" stroke="#555" stroke-width="0.5"/>
<text x="388.20" y="159.80" font-size="4.8" font-weight="normal" text-anchor="start" fill="#333" >ND</text>
<rect x="376.7" y="165.40" width="8.8" height="2.0" fill="url(#hatch)" stroke="#222" stroke-width="0.5"/>
<text x="388.20" y="168.10" font-size="4.8" font-weight="normal" text-anchor="start" fill="#333" >HFD</text>
<rect x="376.7" y="174.00" width="8.8" height="2.0" fill="#fff" stroke="#333" stroke-width="0.5"/>
<text x="388.20" y="176.70" font-size="4.8" font-weight="normal" text-anchor="start" fill="#333" >H200</text>
<rect x="376.7" y="181.80" width="8.8" height="2.0" fill="#111" stroke="#111" stroke-width="0.5"/>
<text x="388.20" y="184.50" font-size="4.8" font-weight="normal" text-anchor="start" fill="#333" >H400</text>
<rect x="376.7" y="189.20" width="8.8" height="2.0" fill="#888" stroke="#666" stroke-width="0.5"/>
<text x="388.20" y="191.90" font-size="4.8" font-weight="normal" text-anchor="start" fill="#333" >H800</text>
</svg></body></html>
